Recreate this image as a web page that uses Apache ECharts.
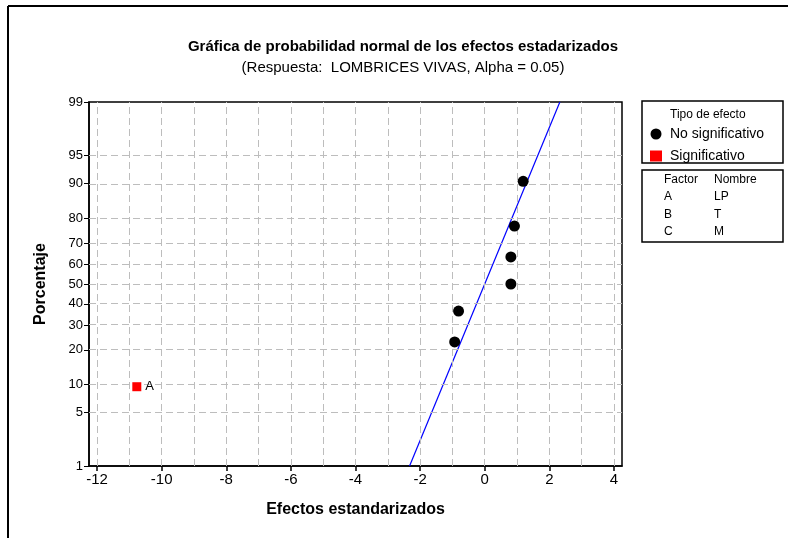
<!DOCTYPE html>
<html><head><meta charset="utf-8">
<script src="https://cdn.jsdelivr.net/npm/echarts@6/dist/echarts.min.js"></script>
<style>html,body{margin:0;padding:0;background:#fff}#c{width:788px;height:538px}</style>
</head><body><div id="c"></div>
<script>
// ---- data ----
const effNoSig = [-0.93, -0.81, 0.81, 0.81, 0.92, 1.19];
const pctNoSig = [22.97, 36.49, 50.0, 63.51, 77.03, 90.54];
const effSig = [-10.77];
const pctSig = [9.46];
const sigLabels = ['A'];
const yTickPct = [1, 5, 10, 20, 30, 40, 50, 60, 70, 80, 90, 95, 99];
const yGridPct = [5, 10, 20, 30, 40, 50, 60, 70, 80, 90, 95];
const xTicks = [-12, -10, -8, -6, -4, -2, 0, 2, 4];
const xGrid = [-12,-11,-10,-9,-8,-7,-6,-5,-4,-3,-2,-1,0,1,2,3,4];
const fitMean = 0, fitSigma = 1;
const fitPct = [1, 99];
const factorRows = [['A','LP'],['B','T'],['C','M']];

// inverse normal CDF (Acklam)
function qnorm(p){
  const a=[-3.969683028665376e+01,2.209460984245205e+02,-2.759285104469687e+02,1.383577518672690e+02,-3.066479806614716e+01,2.506628277459239e+00];
  const b=[-5.447609879822406e+01,1.615858368580409e+02,-1.556989798598866e+02,6.680131188771972e+01,-1.328068155288572e+01];
  const c=[-7.784894002430293e-03,-3.223964580411365e-01,-2.400758277161838e+00,-2.549732539343734e+00,4.374664141464968e+00,2.938163982698783e+00];
  const d=[7.784695709041462e-03,3.224671290700398e-01,2.445134137142996e+00,3.754408661907416e+00];
  const pl=0.02425, ph=1-pl; let q,r;
  if(p<pl){q=Math.sqrt(-2*Math.log(p));return (((((c[0]*q+c[1])*q+c[2])*q+c[3])*q+c[4])*q+c[5])/((((d[0]*q+d[1])*q+d[2])*q+d[3])*q+1);}
  if(p<=ph){q=p-0.5;r=q*q;return (((((a[0]*r+a[1])*r+a[2])*r+a[3])*r+a[4])*r+a[5])*q/(((((b[0]*r+b[1])*r+b[2])*r+b[3])*r+b[4])*r+1);}
  q=Math.sqrt(-2*Math.log(1-p));return -(((((c[0]*q+c[1])*q+c[2])*q+c[3])*q+c[4])*q+c[5])/((((d[0]*q+d[1])*q+d[2])*q+d[3])*q+1);
}
const z = p => qnorm(p/100);
const yTickZ = yTickPct.map(z);
const zMin = z(1), zMax = z(99);

const FONT = '"Liberation Sans", Arial, sans-serif';
const chart = echarts.init(document.getElementById('c'), null, {renderer:'canvas'});

const gridLines = [];
xGrid.forEach(v => gridLines.push({xAxis: v}));
yGridPct.forEach(p => gridLines.push({yAxis: z(p)}));

const legendTexts = [];
legendTexts.push({type:'text', left:664, top:174, style:{text:'Factor', font:'12px '+FONT, fill:'#000'}});
legendTexts.push({type:'text', left:714, top:174, style:{text:'Nombre', font:'12px '+FONT, fill:'#000'}});
factorRows.forEach((r,i)=>{
  legendTexts.push({type:'text', left:664, top:191+i*17.5, style:{text:r[0], font:'12px '+FONT, fill:'#000'}});
  legendTexts.push({type:'text', left:714, top:191+i*17.5, style:{text:r[1], font:'12px '+FONT, fill:'#000'}});
});

chart.setOption({
  animation:false,
  backgroundColor:'#fff',
  title:[
    {text:'Gráfica de probabilidad normal de los efectos estadarizados', left:398, top:34, textAlign:'center',
     textStyle:{fontFamily:FONT, fontSize:15, fontWeight:'bold', color:'#000'}},
    {text:'(Respuesta:  LOMBRICES VIVAS, Alpha = 0.05)', left:398, top:55, textAlign:'center',
     textStyle:{fontFamily:FONT, fontSize:15, fontWeight:'normal', color:'#000'}}
  ],
  grid:{left:89, right:166, top:102, bottom:72, show:true, borderColor:'#000', borderWidth:1.5, backgroundColor:'transparent'},
  legend:{orient:'vertical', left:650, top:127, padding:0, itemWidth:12, itemHeight:11, itemGap:8,
    textStyle:{fontFamily:FONT, fontSize:14, color:'#000', padding:[0,0,0,3]},
    data:[{name:'No significativo', icon:'circle'},{name:'Significativo', icon:'rect'}]},
  xAxis:{type:'value', min:-12.25, max:4.25,
    name:'Efectos estandarizados', nameLocation:'middle', nameGap:36,
    nameTextStyle:{fontFamily:FONT, fontSize:16, fontWeight:'bold', color:'#000'},
    axisLine:{show:true, onZero:false, lineStyle:{color:'#000', width:1.5}},
    axisTick:{show:true, customValues:xTicks, length:5, lineStyle:{color:'#000', width:1.5}},
    axisLabel:{customValues:xTicks, fontFamily:FONT, fontSize:15, color:'#000', margin:6},
    splitLine:{show:false}},
  yAxis:{type:'value', min:zMin, max:zMax,
    name:'Porcentaje', nameLocation:'middle', nameGap:40, nameRotate:90,
    nameTextStyle:{fontFamily:FONT, fontSize:16, fontWeight:'bold', color:'#000'},
    axisLine:{show:true, onZero:false, lineStyle:{color:'#000', width:1.5}},
    axisTick:{show:true, customValues:yTickZ, length:5, lineStyle:{color:'#000', width:1}},
    axisLabel:{customValues:yTickZ, fontFamily:FONT, fontSize:13, color:'#000', margin:6,
      formatter:(v)=>{let bi=0,bd=1e9;yTickZ.forEach((t,i)=>{const d=Math.abs(t-v);if(d<bd){bd=d;bi=i;}});return String(yTickPct[bi]);}},
    splitLine:{show:false}},
  series:[
    {type:'line', name:'grid', data:[], silent:true, z:1,
     markLine:{silent:true, symbol:['none','none'], label:{show:false},
       lineStyle:{color:'#bdbdbd', type:[7,4], width:1}, data:gridLines}},
    {type:'line', name:'fit', silent:true, z:3, symbol:'none',
     lineStyle:{color:'#0000ff', width:1.2},
     data: fitPct.map(p=>[fitMean + fitSigma*z(p), z(p)])},
    {type:'scatter', name:'No significativo', z:5, symbol:'circle', symbolSize:11,
     itemStyle:{color:'#000', opacity:1},
     data: effNoSig.map((e,i)=>[e, z(pctNoSig[i])])},
    {type:'scatter', name:'Significativo', z:5, symbol:'rect', symbolSize:9,
     itemStyle:{color:'#ff0000', opacity:1},
     label:{show:true, position:'right', distance:4, fontFamily:FONT, fontSize:13, color:'#000',
       formatter:(p)=>sigLabels[p.dataIndex]},
     data: effSig.map((e,i)=>[e, z(pctSig[i])])}
  ],
  graphic:[
    {type:'line', shape:{x1:8,y1:6,x2:8,y2:538}, style:{stroke:'#000', lineWidth:2}},
    {type:'line', shape:{x1:8,y1:6,x2:788,y2:6}, style:{stroke:'#000', lineWidth:2}},
    {type:'rect', shape:{x:642, y:101, width:141, height:62}, style:{fill:'none', stroke:'#000', lineWidth:1.5}},
    {type:'rect', shape:{x:642, y:170, width:141, height:72}, style:{fill:'none', stroke:'#000', lineWidth:1.5}},
    {type:'text', left:670, top:109, style:{text:'Tipo de efecto', font:'12px '+FONT, fill:'#000'}},
    ...legendTexts
  ]
});
</script></body></html>
